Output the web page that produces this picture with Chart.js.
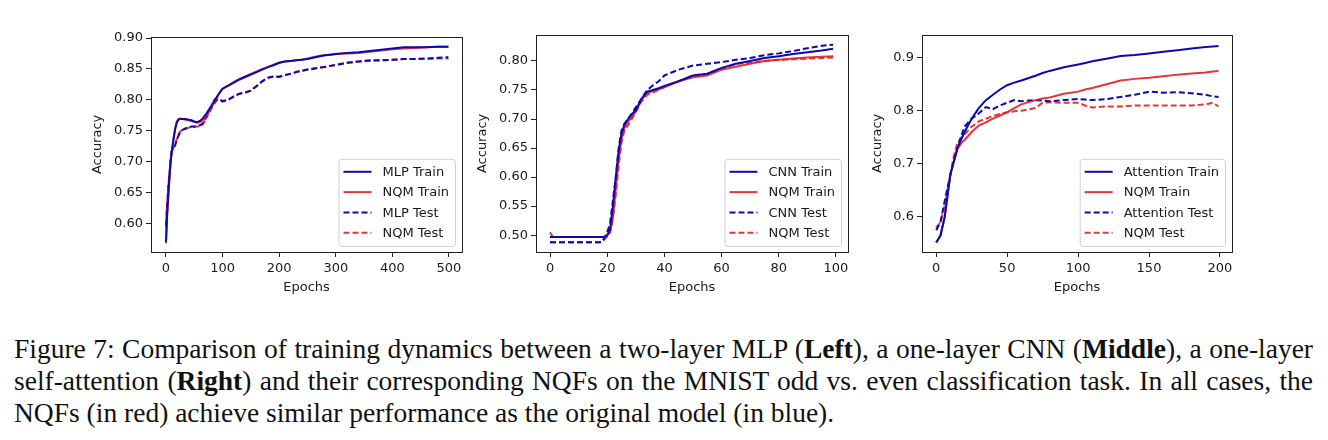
<!DOCTYPE html>
<html>
<head>
<meta charset="utf-8">
<script src="https://cdn.jsdelivr.net/npm/chart.js@4.4.0/dist/chart.umd.min.js"></script>
<style>
    body { margin: 0; background: #fff; width: 1328px; height: 440px; position: relative; overflow: hidden; }
    .panel { position: absolute; }
    .caption { position: absolute; left: 14px; width: 1299px; font-family: "Liberation Serif", "DejaVu Serif", serif; font-size: 27.5px; line-height: 31.5px; color: #111; white-space: nowrap; }
    .caption.just { text-align: justify; text-align-last: justify; white-space: normal; }
</style>
</head>
<body>
<div class="panel" style="left:86px; top:26px; width:384px; height:273px;"><canvas id="mlpChart"></canvas></div>
<div class="panel" style="left:471px; top:24px; width:385px; height:275px;"><canvas id="cnnChart"></canvas></div>
<div class="panel" style="left:866px; top:24px; width:374px; height:275px;"><canvas id="attnChart"></canvas></div>

<div class="caption just" style="top:333px;">Figure 7: Comparison of training dynamics between a two-layer MLP (<b>Left</b>), a one-layer CNN (<b>Middle</b>), a one-layer</div>
<div class="caption just" style="top:365px;">self-attention (<b>Right</b>) and their corresponding NQFs on the MNIST odd vs. even classification task. In all cases, the</div>
<div class="caption" style="top:397px;">NQFs (in red) achieve similar performance as the original model (in blue).</div>

<script>
// ---- Left: two-layer MLP ----
const mlpEpochs = [0, 2, 5, 8, 10, 13, 16, 19, 22, 25, 30, 35, 40, 45, 50, 55, 60, 65, 70, 75, 80, 85, 90, 95, 100,
    110, 120, 130, 140, 150, 160, 170, 180, 190, 200, 210, 220, 230, 240, 250, 260, 270, 280, 290, 300,
    320, 340, 360, 380, 400, 420, 440, 460, 480, 499];
const mlpTrain = [0.570, 0.615, 0.660, 0.700, 0.715, 0.735, 0.752, 0.763, 0.768, 0.769, 0.769, 0.769, 0.768, 0.767, 0.765, 0.764, 0.766, 0.770, 0.776, 0.783, 0.790, 0.798, 0.805, 0.812, 0.818,
    0.823, 0.828, 0.833, 0.837, 0.841, 0.845, 0.849, 0.853, 0.856, 0.860, 0.862, 0.863, 0.864, 0.865, 0.866, 0.868, 0.870, 0.872, 0.873, 0.874,
    0.876, 0.877, 0.879, 0.881, 0.883, 0.885, 0.885, 0.885, 0.886, 0.886];
const mlpNqmTrain = [0.568, 0.612, 0.658, 0.698, 0.714, 0.735, 0.753, 0.765, 0.769, 0.770, 0.769, 0.768, 0.767, 0.766, 0.764, 0.763, 0.764, 0.767, 0.772, 0.779, 0.787, 0.796, 0.804, 0.812, 0.818,
    0.823, 0.829, 0.834, 0.838, 0.842, 0.846, 0.850, 0.853, 0.857, 0.860, 0.862, 0.863, 0.864, 0.865, 0.867, 0.869, 0.871, 0.872, 0.873, 0.874,
    0.875, 0.876, 0.878, 0.880, 0.882, 0.883, 0.884, 0.885, 0.886, 0.886];
const mlpTest = [0.595, 0.630, 0.670, 0.700, 0.718, 0.722, 0.726, 0.735, 0.742, 0.748, 0.752, 0.754, 0.755, 0.757, 0.757, 0.758, 0.759, 0.762, 0.770, 0.778, 0.786, 0.794, 0.800, 0.801, 0.798,
    0.800, 0.806, 0.810, 0.812, 0.815, 0.822, 0.830, 0.836, 0.838, 0.837, 0.840, 0.842, 0.845, 0.847, 0.849, 0.850, 0.852, 0.853, 0.855, 0.856,
    0.860, 0.862, 0.864, 0.864, 0.865, 0.866, 0.866, 0.867, 0.868, 0.869];
const mlpNqmTest = [0.600, 0.632, 0.668, 0.698, 0.716, 0.722, 0.727, 0.736, 0.743, 0.749, 0.752, 0.753, 0.755, 0.756, 0.756, 0.757, 0.757, 0.760, 0.768, 0.780, 0.790, 0.800, 0.803, 0.800, 0.797,
    0.800, 0.805, 0.810, 0.812, 0.815, 0.823, 0.830, 0.835, 0.838, 0.838, 0.840, 0.842, 0.845, 0.847, 0.849, 0.851, 0.852, 0.853, 0.855, 0.857,
    0.860, 0.862, 0.863, 0.864, 0.865, 0.866, 0.866, 0.866, 0.867, 0.867];
const mlpXTicks = [0, 100, 200, 300, 400, 500];
const mlpYTicks = [0.60, 0.65, 0.70, 0.75, 0.80, 0.85, 0.90];

// ---- Middle: one-layer CNN ----
const cnnEpochs = [0, 1, 5, 10, 15, 18, 19, 20, 21, 22, 23, 24, 25, 26, 28, 30, 32, 34, 36, 38, 40, 45, 50, 55, 60, 65, 70, 75, 80, 85, 90, 95, 99];
const cnnTrain = [0.497, 0.497, 0.497, 0.497, 0.497, 0.497, 0.497, 0.500, 0.510, 0.550, 0.600, 0.645, 0.675, 0.690, 0.705, 0.715, 0.735, 0.747, 0.750, 0.753, 0.757, 0.765, 0.775, 0.778, 0.788, 0.795, 0.800, 0.805, 0.808, 0.812, 0.815, 0.818, 0.821];
const cnnNqmTrain = [0.505, 0.497, 0.497, 0.497, 0.497, 0.497, 0.497, 0.499, 0.505, 0.530, 0.580, 0.630, 0.665, 0.685, 0.700, 0.713, 0.733, 0.745, 0.748, 0.751, 0.755, 0.765, 0.772, 0.775, 0.785, 0.790, 0.795, 0.800, 0.802, 0.804, 0.806, 0.807, 0.808];
const cnnTest = [0.488, 0.488, 0.488, 0.488, 0.488, 0.488, 0.495, 0.505, 0.520, 0.560, 0.600, 0.650, 0.680, 0.692, 0.705, 0.720, 0.735, 0.750, 0.758, 0.765, 0.775, 0.785, 0.792, 0.795, 0.798, 0.802, 0.805, 0.810, 0.813, 0.817, 0.822, 0.826, 0.828];
const cnnNqmTest = [0.488, 0.488, 0.488, 0.488, 0.488, 0.488, 0.492, 0.498, 0.505, 0.530, 0.570, 0.620, 0.660, 0.680, 0.695, 0.712, 0.730, 0.742, 0.746, 0.750, 0.755, 0.765, 0.775, 0.778, 0.785, 0.795, 0.797, 0.800, 0.802, 0.803, 0.804, 0.805, 0.806];
const cnnXTicks = [0, 20, 40, 60, 80, 100];
const cnnYTicks = [0.50, 0.55, 0.60, 0.65, 0.70, 0.75, 0.80];

// ---- Right: one-layer self-attention ----
const attnEpochs = [0, 3, 6, 8, 10, 12, 15, 18, 20, 25, 30, 35, 40, 45, 50, 55, 60, 70, 75, 80, 90, 100, 105, 110, 120, 130, 140, 150, 160, 170, 180, 190, 195, 199];
const attnTrain = [0.552, 0.565, 0.600, 0.640, 0.680, 0.700, 0.730, 0.748, 0.760, 0.785, 0.805, 0.820, 0.830, 0.840, 0.848, 0.853, 0.857, 0.866, 0.871, 0.875, 0.882, 0.887, 0.890, 0.893, 0.898, 0.903, 0.905, 0.908, 0.911, 0.914, 0.917, 0.920, 0.921, 0.922];
const attnNqmTrain = [0.552, 0.565, 0.600, 0.640, 0.680, 0.700, 0.728, 0.740, 0.745, 0.760, 0.772, 0.778, 0.785, 0.791, 0.797, 0.805, 0.812, 0.820, 0.823, 0.825, 0.832, 0.836, 0.840, 0.843, 0.850, 0.857, 0.860, 0.862, 0.865, 0.868, 0.870, 0.872, 0.874, 0.875];
const attnTest = [0.575, 0.590, 0.630, 0.655, 0.680, 0.700, 0.730, 0.755, 0.770, 0.785, 0.795, 0.807, 0.803, 0.810, 0.815, 0.820, 0.818, 0.820, 0.819, 0.818, 0.820, 0.822, 0.821, 0.820, 0.822, 0.826, 0.830, 0.836, 0.834, 0.835, 0.833, 0.830, 0.827, 0.826];
const attnNqmTest = [0.580, 0.590, 0.620, 0.650, 0.680, 0.710, 0.740, 0.750, 0.755, 0.770, 0.780, 0.785, 0.790, 0.794, 0.797, 0.799, 0.800, 0.805, 0.815, 0.816, 0.815, 0.815, 0.810, 0.806, 0.808, 0.808, 0.810, 0.810, 0.810, 0.810, 0.810, 0.812, 0.815, 0.808];
const attnXTicks = [0, 50, 100, 150, 200];
const attnYTicks = [0.6, 0.7, 0.8, 0.9];

const BLUE = '#0a0ab4';
const RED = 'rgba(230, 30, 36, 0.9)';
const TEXT = '#1a1a1a';
const FONT = 'DejaVu Sans';

// box around the plot area, all four sides
const framePlugin = {
    id: 'frame',
    afterDraw(chart) {
        const { ctx, chartArea: a } = chart;
        ctx.save();
        ctx.strokeStyle = '#222';
        ctx.lineWidth = 1;
        ctx.strokeRect(Math.round(a.left) + 0.5, Math.round(a.top) + 0.5, Math.round(a.right - a.left), Math.round(a.bottom - a.top));
        ctx.restore();
    }
};

// legend inside the lower right corner of the plot area
const insetLegend = {
    id: 'insetLegend',
    afterDraw(chart) {
        const { ctx, chartArea: a } = chart;
        const sets = chart.data.datasets;
        ctx.save();
        ctx.font = '13px ' + FONT;
        const textW = Math.max(...sets.map(d => ctx.measureText(d.label).width));
        const rowH = 20.3;
        const w = 5 + 28 + 11 + textW + 6;
        const h = rowH * sets.length + 6;
        const x = a.right - 7 - w;
        const y = a.bottom - 6 - h;
        ctx.beginPath();
        ctx.roundRect(x + 0.5, y + 0.5, w, h, 3);
        ctx.fillStyle = 'rgba(255,255,255,0.8)';
        ctx.fill();
        ctx.strokeStyle = '#d0d0d0';
        ctx.lineWidth = 1;
        ctx.stroke();
        sets.forEach((d, i) => {
            const cy = y + 13 + i * rowH;
            ctx.beginPath();
            ctx.setLineDash(d.borderDash || []);
            ctx.strokeStyle = d.borderColor;
            ctx.lineWidth = 2;
            ctx.moveTo(x + 5, cy);
            ctx.lineTo(x + 33, cy);
            ctx.stroke();
            ctx.setLineDash([]);
            ctx.fillStyle = TEXT;
            ctx.textBaseline = 'middle';
            ctx.fillText(d.label, x + 44, cy + 1);
        });
        ctx.restore();
    }
};

function series(label, xs, ys, color, dashed) {
    return {
        label: label,
        data: xs.map((x, i) => ({ x: x, y: ys[i] })),
        borderColor: color,
        borderWidth: 2,
        borderDash: dashed ? [6, 3] : [],
        pointRadius: 0,
        tension: 0,
        fill: false
    };
}

function makeChart(id, datasets, xr, yr, xTicks, yTicks, yDigits, yAxisWidth) {
    const tickFont = { family: FONT, size: 13 };
    new Chart(document.getElementById(id).getContext('2d'), {
        type: 'line',
        data: { datasets: datasets },
        options: {
            responsive: true,
            maintainAspectRatio: false,
            animation: false,
            layout: { padding: { top: 10, right: 8, left: 0, bottom: 0 } },
            plugins: { legend: { display: false }, tooltip: { enabled: false } },
            scales: {
                x: {
                    type: 'linear',
                    min: xr[0],
                    max: xr[1],
                    afterBuildTicks: s => { s.ticks = xTicks.map(v => ({ value: v })); },
                    afterFit: s => { s.height = 47; },
                    ticks: { font: tickFont, color: TEXT, padding: 4, maxRotation: 0, callback: v => String(v) },
                    grid: { drawOnChartArea: false, drawTicks: true, tickLength: 5, color: '#222' },
                    border: { display: false },
                    title: { display: true, text: 'Epochs', font: tickFont, color: TEXT, padding: { top: 4, bottom: 4 } }
                },
                y: {
                    type: 'linear',
                    min: yr[0],
                    max: yr[1],
                    afterBuildTicks: s => { s.ticks = yTicks.map(v => ({ value: v })); },
                    afterFit: s => { s.width = yAxisWidth; },
                    ticks: { font: tickFont, color: TEXT, padding: 3, callback: v => v.toFixed(yDigits) },
                    grid: { drawOnChartArea: false, drawTicks: true, tickLength: 5, color: '#222' },
                    border: { display: false },
                    title: { display: true, text: 'Accuracy', font: tickFont, color: TEXT, padding: { top: 4, bottom: 4 } }
                }
            }
        },
        plugins: [framePlugin, insetLegend]
    });
}

makeChart('mlpChart', [
    series('MLP Train', mlpEpochs, mlpTrain, BLUE, false),
    series('NQM Train', mlpEpochs, mlpNqmTrain, RED, false),
    series('MLP Test', mlpEpochs, mlpTest, BLUE, true),
    series('NQM Test', mlpEpochs, mlpNqmTest, RED, true)
], [-26.5, 523], [0.554, 0.902], mlpXTicks, mlpYTicks, 2, 65);

makeChart('cnnChart', [
    series('CNN Train', cnnEpochs, cnnTrain, BLUE, false),
    series('NQM Train', cnnEpochs, cnnNqmTrain, RED, false),
    series('CNN Test', cnnEpochs, cnnTest, BLUE, true),
    series('NQM Test', cnnEpochs, cnnNqmTest, RED, true)
], [-4.9, 104.2], [0.471, 0.845], cnnXTicks, cnnYTicks, 2, 65);

makeChart('attnChart', [
    series('Attention Train', attnEpochs, attnTrain, BLUE, false),
    series('NQM Train', attnEpochs, attnNqmTrain, RED, false),
    series('Attention Test', attnEpochs, attnTest, BLUE, true),
    series('NQM Test', attnEpochs, attnNqmTest, RED, true)
], [-10, 208.5], [0.534, 0.943], attnXTicks, attnYTicks, 1, 56);
</script>
</body>
</html>
